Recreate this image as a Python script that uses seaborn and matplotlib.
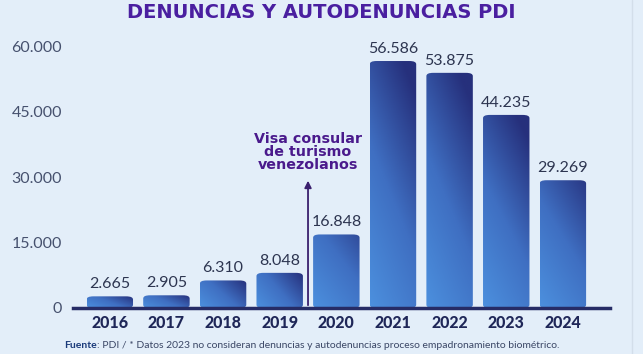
import numpy as np
import matplotlib
matplotlib.use("Agg")
import matplotlib.pyplot as plt
import seaborn as sns
from matplotlib.patches import FancyBboxPatch
from matplotlib.colors import LinearSegmentedColormap

years = ["2016", "2017", "2018", "2019", "2020", "2021", "2022", "2023", "2024"]
denuncias = [2665, 2905, 6310, 8048, 16848, 56586, 53875, 44235, 29269]
yticks = [0, 15000, 30000, 45000, 60000]
annot_text = "Visa consular\nde turismo\nvenezolanos"
annot_x = 3.5
annot_y = 29800

BG = "#e3eef9"
sns.set_theme(style="white")
plt.rcParams["font.family"] = ["Lato", "DejaVu Sans"]

fig = plt.figure(figsize=(6.43, 3.54), dpi=100, facecolor=BG)
ax = fig.add_axes([0.1135, 0.13, 0.835, 0.757])
ax.set_facecolor(BG)

sns.barplot(x=years, y=denuncias, ax=ax, width=0.82, color="#3a5fb0")

ax.set_xlim(-0.65, 8.83)
ax.set_ylim(0, 61400)
ax.set_yticks(yticks)
ax.set_yticklabels([f"{t:,}".replace(",", ".") for t in yticks],
                   fontsize=11.5, fontweight="normal", color="#46516e")
ax.tick_params(axis="y", length=0, pad=8)
ax.tick_params(axis="x", length=0, pad=5)
for lab in ax.get_xticklabels():
    lab.set_fontweight("black")
    lab.set_fontsize(11.5)
    lab.set_color("#1f2758")
ax.set_xlabel("")
ax.set_ylabel("")
for s in ["top", "right", "left"]:
    ax.spines[s].set_visible(False)
ax.spines["bottom"].set_color("#262c66")
ax.spines["bottom"].set_linewidth(2.5)
ax.spines["bottom"].set_zorder(5)

# gradient fill with rounded corners
cmap = LinearSegmentedColormap.from_list("g", ["#4c90de", "#3f6fc2", "#26307c"])
xs = np.linspace(0, 1, 60)
ys = np.linspace(0, 1, 200)
XX, YY = np.meshgrid(xs, ys)
for p, v in zip(list(ax.patches), denuncias):
    x0, w = p.get_x(), p.get_width()
    p.set_visible(False)
    rb = FancyBboxPatch((x0, 0), w, v, boxstyle="round,pad=0,rounding_size=0.12",
                        mutation_aspect=6000, linewidth=0, facecolor="none")
    ax.add_patch(rb)
    hfrac = v / 60000
    grad = np.clip(0.35 * XX + 0.75 * YY * min(1, 0.3 + hfrac), 0, 1)
    if hfrac < 0.2:
        grad = np.clip(0.6 * XX + 0.4 * YY, 0, 1)
    im = ax.imshow(grad, cmap=cmap, extent=(x0, x0 + w, 0, v), origin="lower",
                   aspect="auto", zorder=2, vmin=0, vmax=1)
    im.set_clip_path(rb)
    ax.text(x0 + w / 2, v + 1200, f"{v:,}".replace(",", "."), ha="center", va="bottom",
            fontsize=11.5, fontweight="normal", color="#2d3550")

ax.set_aspect("auto")

ax.annotate("", xy=(annot_x, annot_y), xytext=(annot_x, 0),
            arrowprops=dict(arrowstyle="-|>", color="#3a1f6e", lw=1.3, mutation_scale=10),
            zorder=4)
ax.text(annot_x, annot_y + 1400, annot_text, ha="center", va="bottom",
        fontsize=10.3, fontweight="bold", color="#4a1a8c", linespacing=0.9,
        family=["DejaVu Sans"])

fig.text(0.5, 0.966, "DENUNCIAS Y AUTODENUNCIAS PDI", ha="center", va="center",
         fontsize=14, fontweight="bold", color="#4a1fa0", family=["DejaVu Sans"])

fig.text(97 / 643, 0.025, "Fuente", ha="right", va="center", fontsize=7.5,
         fontweight="bold", color="#1a3a7a")
fig.text(97 / 643, 0.025, ": PDI / * Datos 2023 no consideran denuncias y autodenuncias proceso empadronamiento biométrico.",
         ha="left", va="center", fontsize=7.5, color="#3b4766")

fig.add_artist(plt.Line2D([632 / 643, 632 / 643], [0, 1], color="#d3deea", lw=1))

fig.savefig("out.png", dpi=100, facecolor=BG)
